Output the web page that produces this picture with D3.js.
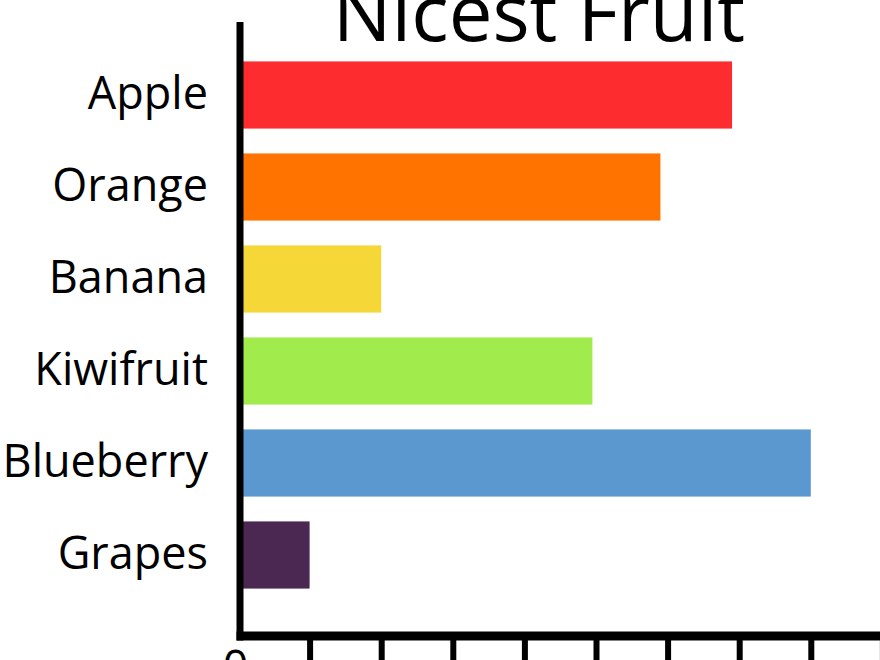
<!DOCTYPE html>
<html>
<head>
<meta charset="utf-8">
<title>Nicest Fruit</title>
<script src="https://cdnjs.cloudflare.com/ajax/libs/d3/7.8.5/d3.min.js"></script>
<style>
  html, body { margin: 0; padding: 0; background: #fff; overflow: hidden; }
  .chart text { font-family: "Open Sans", "Noto Sans", sans-serif; fill: #000; }
</style>
</head>
<body>
<div class="chart"></div>
<script>
// Nicest Fruit - D3

// Chart Data
var fruits = ["Apple", "Orange", "Banana", "Kiwifruit", "Blueberry", "Grapes"];
var votes = [6.9, 5.9, 2, 4.95, 8, 1];
var fruitColors = ["#fd2c2e", "#ff7400", "#f5d838", "#a2eb4d", "#5b98d0", "#4b2852"];
var xTicks = [0, 1, 2, 3, 4, 5, 6, 7, 8, 9];

// Setup Chart Parameters/Dimensions
var svgWidth = 880;
var svgHeight = 660;

// Axis Positions
var axisX = 238;
var axisY = 636;
var axisTop = 22;

// Create an SVG Element/Wrapper
var svg = d3
  .select(".chart")
  .append("svg")
  .attr("width", svgWidth)
  .attr("height", svgHeight);

// Create Scale Functions for the Chart
var xLinearScale = d3.scaleLinear()
  .domain([0, 9])
  .range([axisX, axisX + 9 * 71.6]);

var yBandScale = d3.scaleBand()
  .domain(fruits)
  .range([49, 601])
  .paddingInner(0.27)
  .paddingOuter(0.135);

// Append Bars
svg.selectAll(".bar")
  .data(fruits)
  .enter()
  .append("rect")
  .attr("class", "bar")
  .attr("x", xLinearScale(0))
  .attr("y", d => yBandScale(d))
  .attr("width", (d, i) => xLinearScale(votes[i]) - xLinearScale(0))
  .attr("height", yBandScale.bandwidth())
  .attr("fill", (d, i) => fruitColors[i]);

// Append yAxis (Labels Only, Line Drawn Separately)
var leftAxis = d3.axisLeft(yBandScale)
  .tickSize(0)
  .tickPadding(30);

var yAxis = svg.append("g")
  .attr("transform", `translate(${axisX}, 0)`)
  .call(leftAxis);
yAxis.select(".domain").remove();
yAxis.selectAll("text")
  .attr("font-size", "45px");

// Append xAxis - Only the Zero Label Shows Above the Bottom Edge
var bottomAxis = d3.axisBottom(xLinearScale)
  .tickValues(xTicks)
  .tickSize(40)
  .tickFormat(d => d === 0 ? "0" : "");

var xAxis = svg.append("g")
  .attr("transform", `translate(0, ${axisY})`)
  .call(bottomAxis);
xAxis.select(".domain").remove();
xAxis.selectAll(".tick line")
  .attr("stroke", "#000")
  .attr("stroke-width", 6);
xAxis.selectAll("text")
  .attr("font-size", "45px");

// Zero Tick Sits on the yAxis - No Line, Label Raised
xAxis.selectAll(".tick")
  .filter(d => d === 0)
  .each(function() {
    d3.select(this).select("line").remove();
    d3.select(this).select("text")
      .attr("x", -3)
      .attr("y", 0)
      .attr("dy", "1.05em");
  });

// Axis Lines
svg.append("line")
  .attr("x1", axisX + 2)
  .attr("x2", axisX + 2)
  .attr("y1", axisTop)
  .attr("y2", axisY + 4.5)
  .attr("stroke", "#000")
  .attr("stroke-width", 7);

svg.append("line")
  .attr("x1", axisX - 1.5)
  .attr("x2", svgWidth)
  .attr("y1", axisY)
  .attr("y2", axisY)
  .attr("stroke", "#000")
  .attr("stroke-width", 9);

// Chart Title
svg.append("text")
  .attr("x", 539)
  .attr("y", 41)
  .attr("text-anchor", "middle")
  .attr("font-size", "78px")
  .text("Nicest Fruit");
</script>
</body>
</html>
